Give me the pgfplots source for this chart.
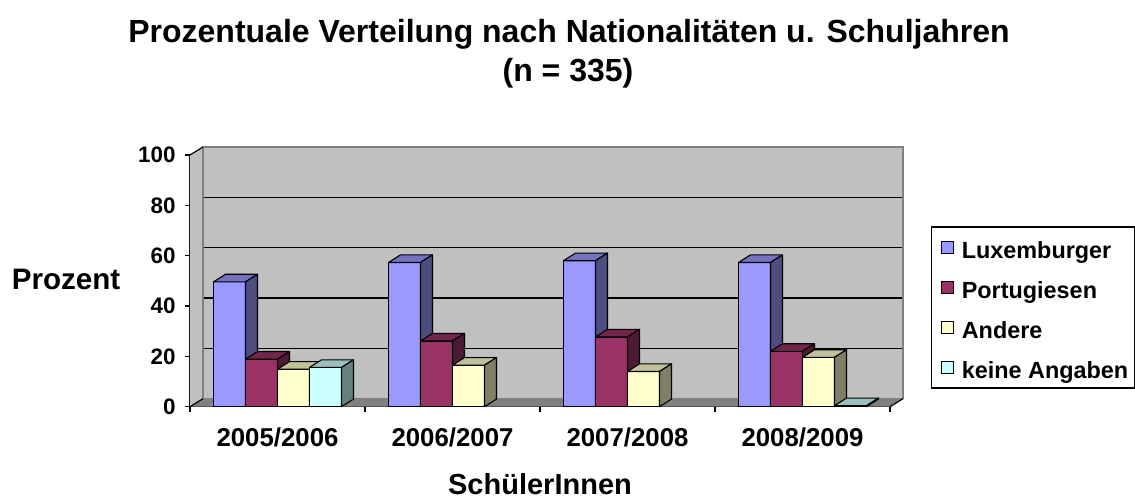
\documentclass[border=0pt]{standalone}
\usepackage{pgfplots}
\pgfplotsset{compat=1.18}
\usepackage{pgfplotstable}
\usepackage{fontspec}
\setmainfont{Liberation Sans}
\definecolor{luxF}{HTML}{9999FF}
\definecolor{luxT}{HTML}{7373C0}
\definecolor{luxS}{HTML}{4D4D80}
\definecolor{porF}{HTML}{993366}
\definecolor{porT}{HTML}{73264D}
\definecolor{porS}{HTML}{4D1A33}
\definecolor{andF}{HTML}{FFFFCC}
\definecolor{andT}{HTML}{C0C099}
\definecolor{andS}{HTML}{808066}
\definecolor{keiF}{HTML}{CCFFFF}
\definecolor{keiT}{HTML}{99C0C0}
\definecolor{keiS}{HTML}{668080}
\definecolor{wallgray}{HTML}{C0C0C0}
\definecolor{floorgray}{HTML}{808080}
\pgfdeclareplotmark{empty}{}
\pgfplotstableread{
x lux port andere keine
0 49.6 18.9 14.9 15.6
1 57.3 26.1 16.5 nan
2 58.0 27.7 14.0 nan
3 57.3 22.0 19.6 0.4
}\datatable
\pgfplotsset{
  bar3d/.style n args={4}{
    only marks, scatter, mark=empty,
    visualization depends on={rawy \as \barval},
    scatter/@pre marker code/.code={%
      \pgfmathsetmacro\barh{\barval*1.2585}%
      \pgfmathsetmacro\xl{#4-8}%
      \pgfmathsetmacro\xr{#4+8}%
      \filldraw[fill=#1, draw=black, line width=0.55pt, line join=round] (\xl pt,-\barh pt) rectangle (\xr pt,0pt);
      \filldraw[fill=#2, draw=black, line width=0.55pt, line join=round] (\xl pt,0pt) -- ++(6pt,3.8pt) -- ++(16pt,0pt) -- ++(-6pt,-3.8pt) -- cycle;
      \filldraw[fill=#3, draw=black, line width=0.55pt, line join=round] (\xr pt,0pt) -- ++(6pt,3.8pt) -- ++(0pt,-\barh pt) -- ++(-6pt,-3.8pt) -- cycle;
    },
    scatter/@post marker code/.code={},
    legend image code/.code={\path (0pt,0pt) (11.5pt,0pt);
      \draw[fill=#1, line width=0.55pt] (3.8pt,-2.9pt) rectangle (9.6pt,2.9pt);},
  },
}
\begin{document}
\begin{tikzpicture}
\path[use as bounding box] (0,0) rectangle (567.5pt,249pt);
\node[anchor=base, font=\bfseries\fontsize{16}{19}\selectfont] at (284.5pt,227.5pt) {Prozentuale Verteilung nach Nationalitäten u. Schuljahren};
\node[anchor=base, font=\bfseries\fontsize{16}{19}\selectfont] at (284pt,208pt) {(n = 335)};
% back wall
\begin{axis}[
  at={(101.5pt,49.65pt)}, anchor=south west,
  x=87.5pt, y=1.2585pt,
  xmin=-0.5, xmax=3.5, ymin=0, ymax=100,
  axis background/.style={fill=wallgray},
  axis line style={draw=floorgray, line width=0.6pt},
  xtick=\empty, ytick={20,40,60,80}, yticklabels={},
  major tick length=0pt,
  ymajorgrids, grid style={black, line width=0.8pt},
]
\end{axis}
% front
\begin{axis}[
  at={(95pt,45.65pt)}, anchor=south west,
  x=87.5pt, y=1.2585pt,
  xmin=-0.5, xmax=3.5, ymin=0, ymax=100,
  clip=false,
  axis x line*=bottom, axis y line*=left,
  axis line style={line width=0.6pt, black},
  tick style={line width=0.6pt, black},
  tick align=outside, major tick length=2.5pt,
  xtick={-0.5,0.5,1.5,2.5,3.5}, xticklabels={},
  extra x ticks={0,1,2,3},
  extra x tick labels={2005/2006,2006/2007,2007/2008,2008/2009},
  extra x tick style={major tick length=0pt, tick style={draw=none},
    xticklabel style={anchor=base, yshift=-19.65pt, font=\bfseries\fontsize{12.9}{15}\selectfont}},
  ytick={0,20,40,60,80,100},
  /pgf/number format/assume math mode=true,
  yticklabel style={anchor=east, inner sep=0pt, xshift=-4.5pt, font=\bfseries\fontsize{11.2}{13}\selectfont},
  ylabel={Prozent},
  ylabel style={rotate=-90, at={(axis description cs:-0.1771,0.507)}, anchor=center, font=\bfseries\fontsize{14.8}{17}\selectfont},
  xlabel={SchülerInnen},
  xlabel style={at={(axis description cs:0.5,-0.3490)}, anchor=base, inner sep=0pt, font=\bfseries\fontsize{14.5}{17}\selectfont},
  legend style={at={(axis description cs:1.0586,0.716)}, anchor=north west,
    draw=black, line width=0.6pt, fill=white,
    font=\bfseries\fontsize{11.7}{13}\selectfont,
    inner xsep=1pt, inner ysep=2.75pt, row sep=5pt,
    nodes={inner sep=2pt, text height=11pt, text depth=0pt, anchor=west}},
  legend cell align=left,
]
\fill[wallgray] (axis cs:-0.5,0) -- (axis cs:-0.5,100) -- ++(6.5pt,4pt) -- ++(0pt,-125.85pt) -- cycle;
\draw[floorgray, line width=0.6pt] ([shift={(6.5pt,4pt)}]axis cs:-0.5,0) -- ++(0pt,125.85pt);
\fill[floorgray] (axis cs:-0.5,0) -- (axis cs:3.5,0) -- ++(6.5pt,4pt) -- ++(-350pt,0pt) -- cycle;
\draw[black, line width=0.6pt] (axis cs:-0.5,100) -- ++(6.5pt,4pt);
\draw[black, line width=0.6pt] (axis cs:-0.5,0) -- ++(6.5pt,4pt);
\draw[black, line width=0.6pt] (axis cs:3.5,0) -- ++(6.5pt,4pt);
\addplot[bar3d={luxF}{luxT}{luxS}{-24}] table[x=x,y=lux]{\datatable};
\addlegendentry{Luxemburger}
\addplot[bar3d={porF}{porT}{porS}{-8}] table[x=x,y=port]{\datatable};
\addlegendentry{Portugiesen}
\addplot[bar3d={andF}{andT}{andS}{8}] table[x=x,y=andere]{\datatable};
\addlegendentry{Andere}
\addplot[bar3d={keiF}{keiT}{keiS}{24}] table[x=x,y=keine]{\datatable};
\addlegendentry{keine Angaben}
\end{axis}
\end{tikzpicture}
\end{document}
